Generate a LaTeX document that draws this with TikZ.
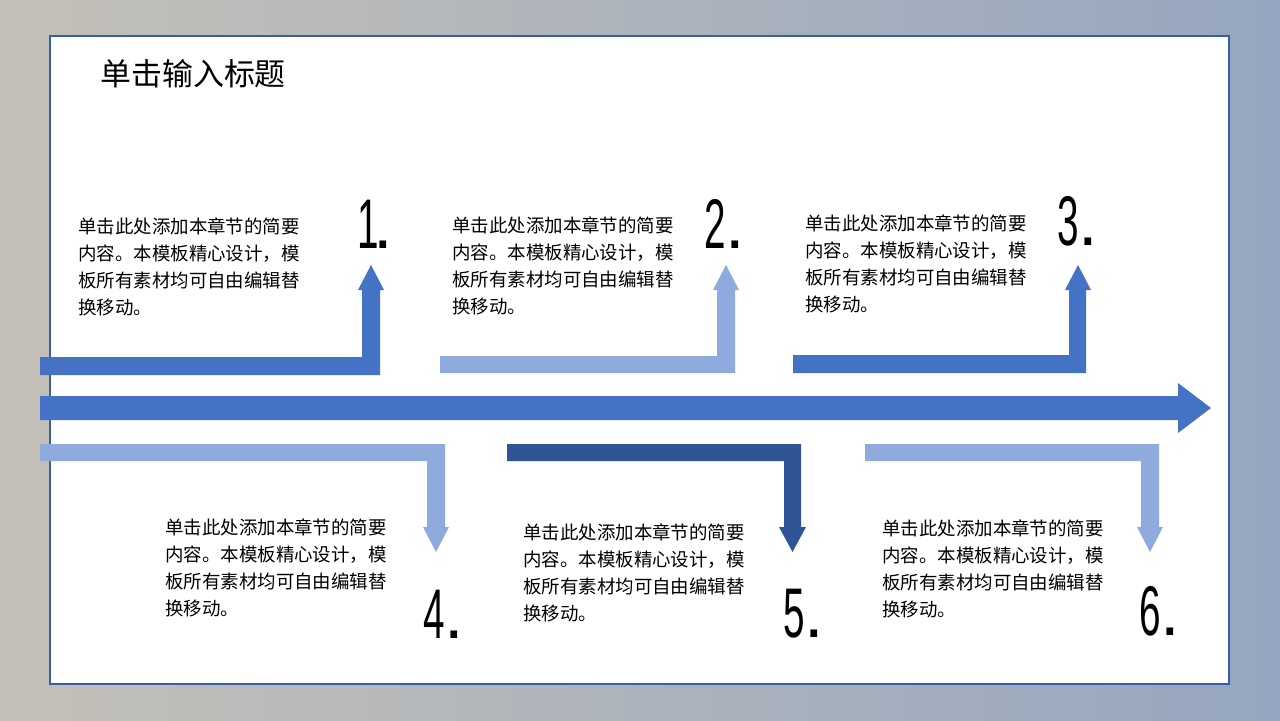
\documentclass[tikz,border=0pt]{standalone}
\usepackage{fontspec}
\newfontfamily\cjkfont{Noto Sans CJK SC}
\newfontfamily\numfont[FakeStretch=0.55]{Liberation Sans}
\newfontfamily\dotfont{Liberation Sans}
\definecolor{barmid}{RGB}{68,114,196}
\definecolor{barlight}{RGB}{143,170,220}
\definecolor{bardark}{RGB}{47,85,151}
\definecolor{paneledge}{RGB}{58,93,168}

\begin{document}
\begin{tikzpicture}[
	blurb/.style={anchor=north west, align=left, inner sep=0pt, font=\cjkfont\fontsize{10.5pt}{15.4pt}\selectfont},
	numlabel/.style={anchor=base west, inner sep=0pt, font=\numfont\fontsize{40pt}{40pt}\selectfont}]
	% Background and panel:
	\path[use as bounding box] (0, 0) rectangle (25.6, -14.4);
	\shade[left color={rgb,255:red,196;green,192;blue,184}, right color={rgb,255:red,150;green,166;blue,192}] (0, 0) rectangle (25.6, -14.4);
	\path[fill=white, draw=paneledge, line width=0.6pt] (1, -0.72) rectangle (24.58, -13.68);
	\node[anchor=north west, inner sep=0pt, font=\cjkfont\fontsize{17.6pt}{20pt}\selectfont] (title) at (2, -1.18){单击输入标题};
	% Main arrow:
	\path[fill=barmid] (0.8, -7.92) -- (23.56, -7.92) -- (23.56, -7.66) -- (24.22, -8.16) -- (23.56, -8.66) -- (23.56, -8.4) -- (0.8, -8.4) -- cycle;
	% Upper bent arrows:
	\path[fill=barmid] (0.8, -7.14) -- (7.24, -7.14) -- (7.24, -5.8) -- (7.16, -5.8) -- (7.42, -5.3) -- (7.68, -5.8) -- (7.6, -5.8) -- (7.6, -7.5) -- (0.8, -7.5) -- cycle;
	\path[fill=barlight] (8.8, -7.12) -- (14.34, -7.12) -- (14.34, -5.8) -- (14.26, -5.8) -- (14.52, -5.3) -- (14.78, -5.8) -- (14.7, -5.8) -- (14.7, -7.46) -- (8.8, -7.46) -- cycle;
	\path[fill=barmid] (15.86, -7.1) -- (21.38, -7.1) -- (21.38, -5.8) -- (21.3, -5.8) -- (21.56, -5.3) -- (21.82, -5.8) -- (21.72, -5.8) -- (21.72, -7.46) -- (15.86, -7.46) -- cycle;
	% Lower bent arrows:
	\path[fill=barlight] (0.8, -8.88) -- (8.9, -8.88) -- (8.9, -10.54) -- (8.98, -10.54) -- (8.72, -11.04) -- (8.46, -10.54) -- (8.54, -10.54) -- (8.54, -9.22) -- (0.8, -9.22) -- cycle;
	\path[fill=bardark] (10.14, -8.88) -- (16.02, -8.88) -- (16.02, -10.54) -- (16.12, -10.54) -- (15.85, -11.04) -- (15.58, -10.54) -- (15.68, -10.54) -- (15.68, -9.22) -- (10.14, -9.22) -- cycle;
	\path[fill=barlight] (17.3, -8.88) -- (23.18, -8.88) -- (23.18, -10.54) -- (23.26, -10.54) -- (23, -11.04) -- (22.74, -10.54) -- (22.82, -10.54) -- (22.82, -9.22) -- (17.3, -9.22) -- cycle;
	% Numbers:
	\node[numlabel] (num1) at (7.14, -4.96){1\kern-3pt{\dotfont.}};
	\node[numlabel] (num2) at (14.08, -4.96){2\kern0pt{\dotfont.}};
	\node[numlabel] (num3) at (21.14, -4.9){3\kern0pt{\dotfont.}};
	\node[numlabel] (num4) at (8.46, -12.76){4\kern0pt{\dotfont.}};
	\node[numlabel] (num5) at (15.66, -12.74){5\kern0pt{\dotfont.}};
	\node[numlabel] (num6) at (22.78, -12.7){6\kern0pt{\dotfont.}};
	% Text blocks:
	\node[blurb] (blurb1) at (1.56, -4.34){单击此处添加本章节的简要\\内容。本模板精心设计，模\\板所有素材均可自由编辑替\\换移动。};
	\node[blurb] (blurb2) at (9.04, -4.32){单击此处添加本章节的简要\\内容。本模板精心设计，模\\板所有素材均可自由编辑替\\换移动。};
	\node[blurb] (blurb3) at (16.1, -4.28){单击此处添加本章节的简要\\内容。本模板精心设计，模\\板所有素材均可自由编辑替\\换移动。};
	\node[blurb] (blurb4) at (3.3, -10.36){单击此处添加本章节的简要\\内容。本模板精心设计，模\\板所有素材均可自由编辑替\\换移动。};
	\node[blurb] (blurb5) at (10.46, -10.46){单击此处添加本章节的简要\\内容。本模板精心设计，模\\板所有素材均可自由编辑替\\换移动。};
	\node[blurb] (blurb6) at (17.64, -10.38){单击此处添加本章节的简要\\内容。本模板精心设计，模\\板所有素材均可自由编辑替\\换移动。};
\end{tikzpicture}
\end{document}
